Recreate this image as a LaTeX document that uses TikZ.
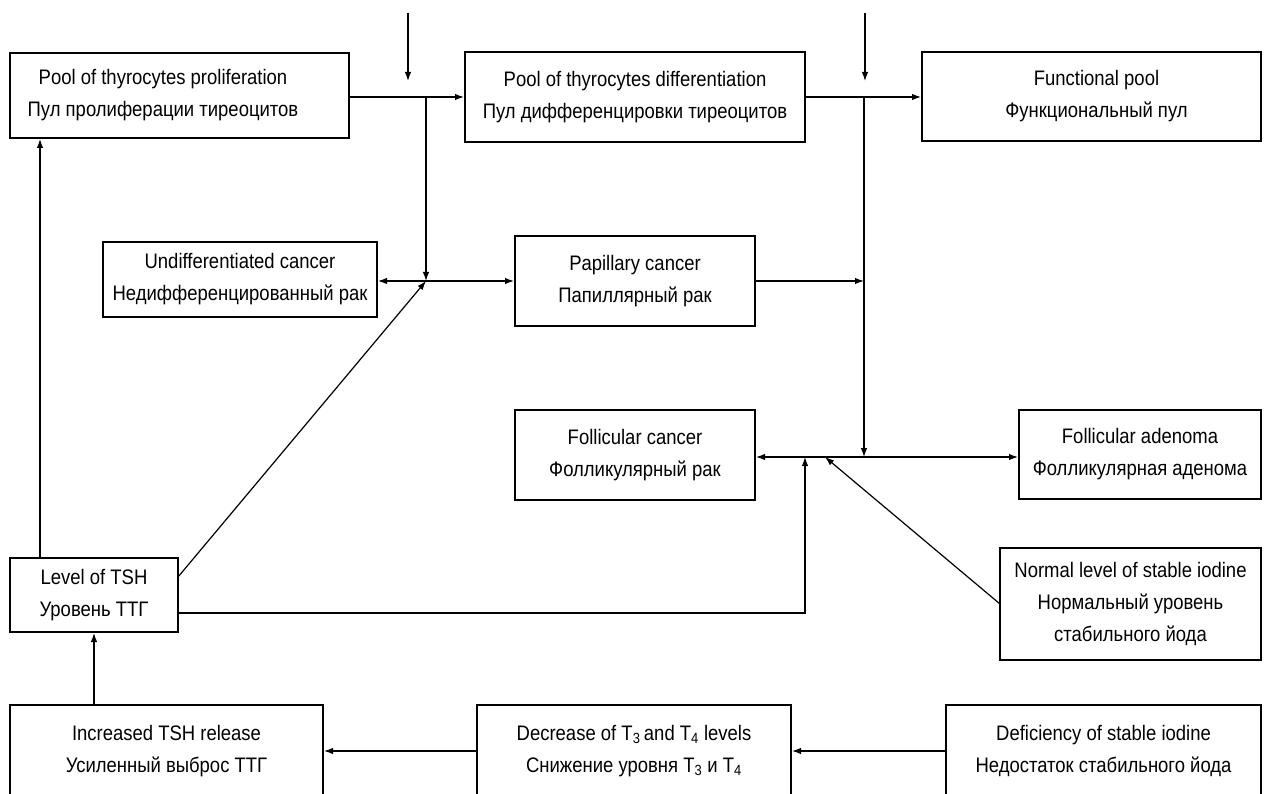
\documentclass[tikz,border=0pt]{standalone}
\usepackage{fontspec}
\setmainfont{Liberation Sans}[FakeStretch=0.88]
\usetikzlibrary{arrows.meta}
\begin{document}
\begin{tikzpicture}[x=1pt,y=-1pt,
  box/.style={draw,line width=2pt,rectangle,inner sep=0pt,align=center,
    font=\fontsize{21}{32}\selectfont},
  lbl/.style={inner sep=0pt,align=center,font=\fontsize{21}{32}\selectfont},
  conn/.style={line width=1.2pt},
  arr/.style={conn,-{Latex[length=9pt,width=6.5pt]}},
  darr/.style={conn,{Latex[length=9pt,width=6.5pt]}-{Latex[length=9pt,width=6.5pt]}}]
\useasboundingbox (0,0) rectangle (1264,794);
\clip (0,0) rectangle (1264,794);
% boxes
\node[box,minimum width=339pt,minimum height=85pt] (b1) at (179.5,95.5) {};
\node[lbl] (b1t) at (163,95.5) {Pool of thyrocytes proliferation\\Пул пролиферации тиреоцитов};
\node[box,minimum width=340pt,minimum height=90pt] (b2) at (635,97) {Pool of thyrocytes differentiation\\Пул дифференцировки тиреоцитов};
\node[box,minimum width=339pt,minimum height=89pt] (b3) at (1091.5,96.5) {\hspace*{10pt}Functional pool\\\hspace*{10pt}Функциональный пул};
\node[box,minimum width=274pt,minimum height=75pt] (b4) at (240,279.5) {Undifferentiated cancer\\Недифференцированный рак};
\node[box,minimum width=240pt,minimum height=90pt] (b5) at (635,281) {Papillary cancer\\Папиллярный рак};
\node[box,minimum width=240pt,minimum height=90pt] (b6) at (635,455) {Follicular cancer\\Фолликулярный рак};
\node[box,minimum width=242pt,minimum height=89pt] (b7) at (1140,454.5) {Follicular adenoma\\Фолликулярная аденома};
\node[box,minimum width=168pt,minimum height=74pt] (b8) at (94,595) {Level of TSH\\Уровень ТТГ};
\node[box,minimum width=261pt,minimum height=112pt] (b9) at (1130.5,604) {Normal level of stable iodine\\Нормальный уровень\\стабильного йода};
\node[box,minimum width=313pt,minimum height=92pt] (b10) at (166.5,751) {Increased TSH release\\Усиленный выброс ТТГ};
\node[box,minimum width=314pt,minimum height=92pt] (b11) at (634,751) {Decrease of T\textsubscript{3}\,and T\textsubscript{4} levels\\Снижение уровня T\textsubscript{3} и T\textsubscript{4}};
\node[box,minimum width=315pt,minimum height=92pt] (b12) at (1103.5,751) {Deficiency of stable iodine\\Недостаток стабильного йода};
% coordinates
\coordinate (t1s) at (408,13);
\coordinate (t1e) at (408,81);
\coordinate (t2s) at (865,13);
\coordinate (t2e) at (865,81);
\coordinate (j1) at (426,97);
\coordinate (j2) at (426,281);
\coordinate (j3) at (864,97);
\coordinate (j4) at (864,457);
\coordinate (j4b) at (864,281);
\coordinate (j5) at (805,457);
\coordinate (j5c) at (805,613);
\coordinate (j6) at (825,457);
\coordinate (s8) at (178,577);
\coordinate (s9) at (1000,604);
% connectors
\draw[arr] (t1s) -- (t1e);
\draw[arr] (t2s) -- (t2e);
\draw[arr] (b1.east |- j1) -- (b2.west |- j1);
\draw[arr] (b2.east |- j3) -- (b3.west |- j3);
\draw[arr] (j1) -- (j2);
\draw[arr] (j3) -- (j4);
\draw[darr] (b4.east |- j2) -- (b5.west |- j2);
\draw[arr] (b5.east |- j4b) -- (j4b);
\draw[darr] (b6.east |- j4) -- (b7.west |- j4);
\draw[arr] (s8) -- (j2);
\draw[arr] (b8.east |- j5c) -- (j5c) -- (j5);
\draw[arr] (s9) -- (j6);
\draw[arr] (b8.north -| 40,0) -- (b1.south -| 40,0);
\draw[arr] (b10.north -| 94,0) -- (b8.south);
\draw[arr] (b12.west) -- (b11.east);
\draw[arr] (b11.west) -- (b10.east);
\end{tikzpicture}
\end{document}
